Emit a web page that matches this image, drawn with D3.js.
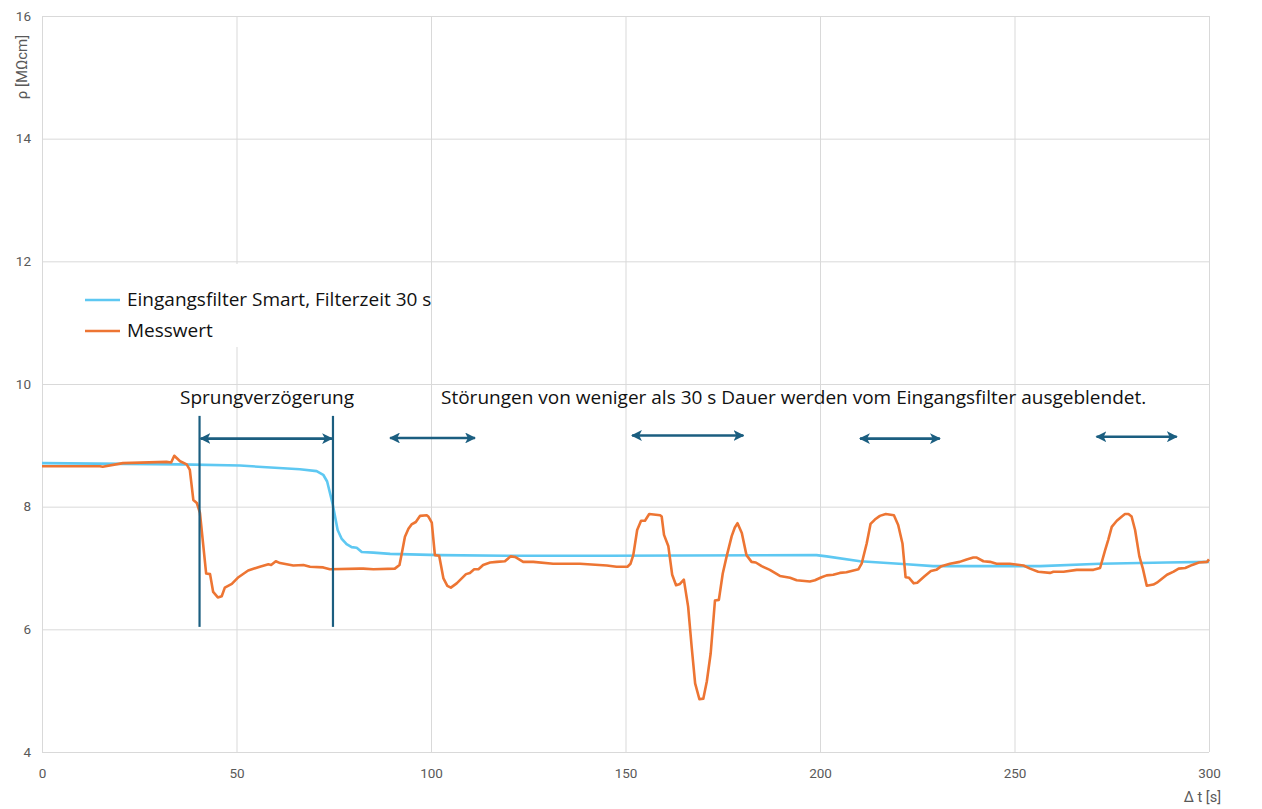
<!DOCTYPE html>
<html>
<head>
<meta charset="utf-8">
<script src="https://cdn.jsdelivr.net/npm/d3@7"></script>
<style>
  html, body { margin: 0; padding: 0; background: #fff; }
  svg { display: block; }
</style>
</head>
<body>
<svg id="chart" width="1262" height="809"></svg>
<script>
// Time axis [s] and resistivity values [MΩcm]
const filterTime = [0, 35.4, 50.9, 66.3, 70.6, 72.3, 73.3, 74.7, 76, 77, 78.3, 79.6, 80.9, 82.2, 85.2, 89.5,
  102.3, 119.5, 145.2, 199.1, 201.7, 210.3, 222.3, 229.1, 246.3, 256.6, 272, 289.1, 300];
const filterValue = [8.71, 8.69, 8.67, 8.61, 8.58, 8.52, 8.41, 8.05, 7.62, 7.48, 7.39, 7.34, 7.33, 7.26, 7.25, 7.23,
  7.21, 7.20, 7.20, 7.21, 7.19, 7.11, 7.06, 7.03, 7.03, 7.03, 7.07, 7.09, 7.10];

const measTime = [0, 14.9, 15.6, 20.8, 32, 33.2, 34, 35.5, 37.2, 38, 38.9, 39.8, 40.6, 42.2, 43.2, 44, 45.2, 46.2,
  47, 48.8, 50.5, 53, 56, 58.2, 58.9, 60.1, 61.2, 64.6, 67.2, 68.9, 72.3, 74, 81.7, 82.6, 85.2, 90.7, 91.9, 92.5,
  93.3, 94.2, 95, 96.1, 97.2, 98.9, 99.3, 100.2, 101, 102.1, 103.2, 104.2, 105.1, 106.6, 109, 110, 111.1, 112.2,
  113.4, 115.2, 116.9, 119, 120.5, 121.6, 123.7, 126.3, 131.4, 138.3, 145.2, 147.7, 150.5, 151.3, 152, 153, 154,
  155, 156.1, 158.9, 159.3, 159.9, 161, 162, 163, 164, 165, 166.1, 167, 167.9, 169, 170, 170.9, 171.9, 173, 174,
  175, 176, 177.3, 178.1, 178.8, 179.9, 181.1, 182.4, 183.5, 185, 187.1, 188.4, 189.7, 192.3, 194, 197.4, 198.7,
  200.4, 201.7, 203.4, 205.1, 206.8, 208.6, 209.9, 210.7, 212, 213, 214.1, 215.4, 216.9, 219, 220.1, 221.2, 222,
  222.9, 224.1, 225, 226.8, 228.5, 229.9, 231.2, 233.4, 235.9, 237.7, 239.4, 240.3, 242, 243.7, 245.4, 248.8,
  252.3, 254, 256.1, 259.1, 260, 262.6, 266, 270.3, 272, 273.3, 274.1, 275, 276.3, 277.6, 278.4, 279.3, 280.1,
  281, 282.1, 283, 284, 285.7, 286.6, 289.2, 290.9, 292.2, 293.9, 295.7, 297.4, 299.5, 300];
const measValue = [8.66, 8.66, 8.65, 8.71, 8.73, 8.72, 8.83, 8.74, 8.69, 8.60, 8.11, 8.06, 7.90, 6.91, 6.90, 6.61,
  6.52, 6.54, 6.68, 6.74, 6.85, 6.96, 7.02, 7.06, 7.05, 7.11, 7.08, 7.04, 7.05, 7.02, 7.01, 6.98, 6.99, 6.99,
  6.98, 6.99, 7.05, 7.24, 7.51, 7.64, 7.71, 7.75, 7.85, 7.86, 7.84, 7.74, 7.21, 7.20, 6.83, 6.71, 6.68, 6.75,
  6.90, 6.92, 6.98, 6.98, 7.05, 7.09, 7.10, 7.11, 7.19, 7.18, 7.10, 7.10, 7.07, 7.07, 7.04, 7.02, 7.02, 7.07,
  7.21, 7.62, 7.77, 7.77, 7.88, 7.86, 7.84, 7.54, 7.36, 6.89, 6.72, 6.74, 6.81, 6.37, 5.72, 5.12, 4.86, 4.87,
  5.15, 5.61, 6.47, 6.48, 6.91, 7.19, 7.52, 7.66, 7.73, 7.57, 7.21, 7.10, 7.09, 7.03, 6.97, 6.92, 6.87, 6.84,
  6.80, 6.78, 6.80, 6.85, 6.88, 6.89, 6.92, 6.93, 6.96, 6.98, 7.07, 7.40, 7.72, 7.79, 7.85, 7.88, 7.86, 7.70,
  7.40, 6.85, 6.84, 6.75, 6.76, 6.86, 6.95, 6.97, 7.03, 7.07, 7.10, 7.14, 7.17, 7.17, 7.11, 7.10, 7.07, 7.07,
  7.04, 6.99, 6.94, 6.92, 6.94, 6.94, 6.97, 6.97, 7.00, 7.29, 7.46, 7.67, 7.77, 7.84, 7.88, 7.88, 7.84, 7.62,
  7.19, 6.99, 6.71, 6.73, 6.76, 6.89, 6.94, 6.99, 7.00, 7.05, 7.09, 7.10, 7.14];

const xTicks = [0, 50, 100, 150, 200, 250, 300];
const yTicks = [4, 6, 8, 10, 12, 14, 16];
const seriesNames = ["Eingangsfilter Smart, Filterzeit 30 s", "Messwert"];
const seriesColors = ["#5ec8f2", "#ed7533"];

// Annotation: step delay markers and disturbance spans (time in s, level in MΩcm)
const delayMarkers = [40.5, 74.8];
const delaySpan = { from: 40.5, to: 74.8, level: 9.11 };
const disturbanceFrom = [89.5, 151.7, 210.3, 271.1];
const disturbanceTo = [111.3, 180.3, 230.8, 291.7];
const disturbanceLevel = [9.12, 9.16, 9.11, 9.14];
const delayLabel = "Sprungverzögerung";
const disturbanceLabel = "Störungen von weniger als 30 s Dauer werden vom Eingangsfilter ausgeblendet.";

const svg = d3.select("#chart");
const margin = { left: 42, right: 53, top: 16, bottom: 57 };
const W = 1262, H = 809;

const x = d3.scaleLinear().domain([0, 300]).range([margin.left, W - margin.right]);
const y = d3.scaleLinear().domain([4, 16]).range([H - margin.bottom, margin.top]);

const gridColor = "#d9d9d9";
const labelColor = "#595959";
const textFont = "'Open Sans', sans-serif";

// Gridlines
svg.append("g")
  .attr("transform", `translate(0,${y(4)})`)
  .call(d3.axisBottom(x).tickValues(xTicks).tickSize(-(y(4) - y(16))).tickFormat(""))
  .call(g => g.select(".domain").remove())
  .call(g => g.selectAll("line").attr("stroke", gridColor).attr("stroke-width", 1));

svg.append("g")
  .attr("transform", `translate(${x(0)},0)`)
  .call(d3.axisLeft(y).tickValues(yTicks).tickSize(-(x(300) - x(0))).tickFormat(""))
  .call(g => g.select(".domain").remove())
  .call(g => g.selectAll("line").attr("stroke", gridColor).attr("stroke-width", 1));

// Tick labels
const xAxis = svg.append("g")
  .attr("transform", `translate(0,${y(4)})`)
  .call(d3.axisBottom(x).tickValues(xTicks).tickSize(0).tickPadding(16).tickFormat(d3.format("d")));
xAxis.select(".domain").remove();
xAxis.selectAll("text").attr("font-family", "Roboto, sans-serif").attr("font-size", 13.5).attr("fill", labelColor);

const yAxis = svg.append("g")
  .attr("transform", `translate(${x(0)},0)`)
  .call(d3.axisLeft(y).tickValues(yTicks).tickSize(0).tickPadding(11).tickFormat(d3.format("d")));
yAxis.select(".domain").remove();
yAxis.selectAll("text").attr("font-family", "Roboto, sans-serif").attr("font-size", 13.5).attr("fill", labelColor);

// Axis titles
svg.append("text")
  .attr("transform", `translate(27,${67}) rotate(-90)`)
  .attr("text-anchor", "middle")
  .attr("font-family", "Roboto, sans-serif").attr("font-size", 15).attr("fill", labelColor)
  .text("ρ [MΩcm]");

svg.append("text")
  .attr("x", 1221).attr("y", 802)
  .attr("text-anchor", "end")
  .attr("font-family", "Roboto, sans-serif").attr("font-size", 14.5).attr("fill", labelColor)
  .text("Δ t [s]");

// Series
const line = d3.line().x(d => x(d[0])).y(d => y(d[1]));
const filterData = filterTime.map((t, i) => [t, filterValue[i]]);
const measData = measTime.map((t, i) => [t, measValue[i]]);

svg.append("path").datum(filterData)
  .attr("d", line).attr("fill", "none")
  .attr("stroke", seriesColors[0]).attr("stroke-width", 2.6).attr("stroke-linejoin", "round");

svg.append("path").datum(measData)
  .attr("d", line).attr("fill", "none")
  .attr("stroke", seriesColors[1]).attr("stroke-width", 2.6).attr("stroke-linejoin", "round");

// Legend (white panel behind entries)
const legend = svg.append("g");
legend.append("rect").attr("x", 44).attr("y", 264).attr("width", 386).attr("height", 83).attr("fill", "#fff");
seriesNames.forEach((name, i) => {
  const ly = 300 + i * 31;
  legend.append("line").attr("x1", 85).attr("x2", 120).attr("y1", ly).attr("y2", ly)
    .attr("stroke", seriesColors[i]).attr("stroke-width", 2.6);
  legend.append("text").attr("x", 127).attr("y", ly + 6)
    .attr("font-family", textFont).attr("font-size", 19).attr("fill", "#111")
    .text(name);
});

// Annotations
const annoColor = "#1b5e80";
const defs = svg.append("defs");
defs.append("marker").attr("id", "arrow").attr("viewBox", "0 0 10 10")
  .attr("refX", 9).attr("refY", 5).attr("markerWidth", 4.2).attr("markerHeight", 4.2)
  .attr("markerUnits", "strokeWidth").attr("orient", "auto-start-reverse")
  .append("path").attr("d", "M0,0 L10,5 L0,10 L2.5,5 Z").attr("fill", annoColor);

const anno = svg.append("g");
delayMarkers.forEach(t => {
  anno.append("line").attr("x1", x(t)).attr("x2", x(t)).attr("y1", y(9.48)).attr("y2", y(6.04))
    .attr("stroke", annoColor).attr("stroke-width", 2.2);
});
anno.append("line")
  .attr("x1", x(delaySpan.from) + 1).attr("x2", x(delaySpan.to) - 1)
  .attr("y1", y(delaySpan.level)).attr("y2", y(delaySpan.level))
  .attr("stroke", annoColor).attr("stroke-width", 2.6)
  .attr("marker-start", "url(#arrow)").attr("marker-end", "url(#arrow)");

disturbanceFrom.forEach((t, i) => {
  anno.append("line")
    .attr("x1", x(t)).attr("x2", x(disturbanceTo[i]))
    .attr("y1", y(disturbanceLevel[i])).attr("y2", y(disturbanceLevel[i]))
    .attr("stroke", annoColor).attr("stroke-width", 2.6)
    .attr("marker-start", "url(#arrow)").attr("marker-end", "url(#arrow)");
});

anno.append("text").attr("x", 180).attr("y", 404)
  .attr("font-family", textFont).attr("font-size", 19).attr("fill", "#111")
  .text(delayLabel);
anno.append("text").attr("x", 441).attr("y", 404)
  .attr("font-family", textFont).attr("font-size", 19).attr("fill", "#111")
  .text(disturbanceLabel);
</script>
</body>
</html>
